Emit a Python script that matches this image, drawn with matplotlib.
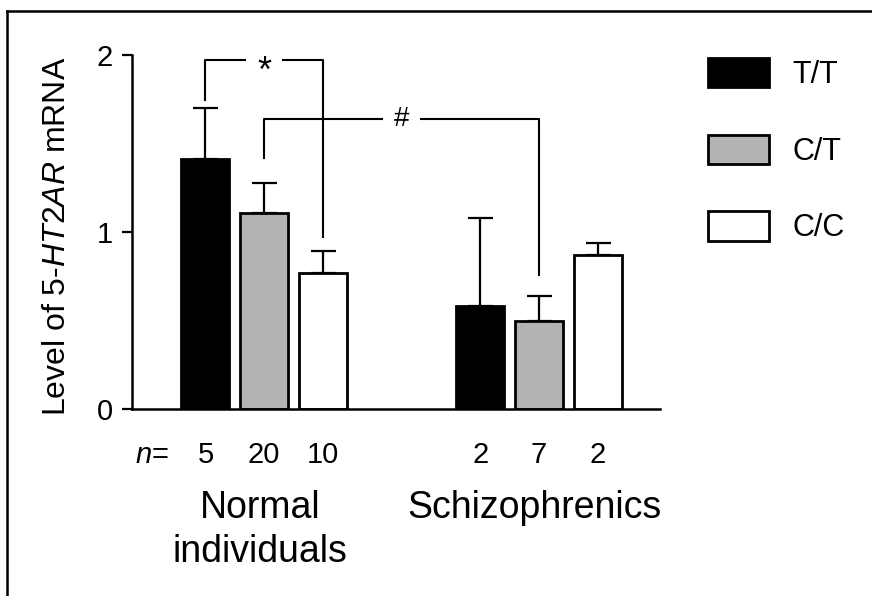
import matplotlib
matplotlib.use("Agg")
import matplotlib.pyplot as plt
from matplotlib.patches import Patch
from matplotlib.lines import Line2D
import numpy as np

plt.rcParams['font.family'] = ['Liberation Sans', 'DejaVu Sans']
plt.rcParams['mathtext.fontset'] = 'custom'
plt.rcParams['mathtext.rm'] = 'Liberation Sans'
plt.rcParams['mathtext.it'] = 'Liberation Sans:italic'

# ---- data ----
genotypes = ["T/T", "C/T", "C/C"]
groups = ["Normal\nindividuals", "Schizophrenics"]
normal_means = [1.41, 1.11, 0.77]
normal_err = [0.29, 0.165, 0.12]
schizo_means = [0.58, 0.50, 0.87]
schizo_err = [0.50, 0.14, 0.07]
normal_n = ["5", "20", "10"]
schizo_n = ["2", "7", "2"]
yticks = [0, 1, 2]

colors = ["#000000", "#b3b3b3", "#ffffff"]

fig = plt.figure(figsize=(8.72, 5.96), dpi=100)
ax = fig.add_axes([132/872, (596-409)/596, 528/872, 354/596])

group_offset = 4.68
pos_normal = np.arange(3)
pos_schizo = np.arange(3) + group_offset
width = 0.82

for i in range(3):
    for pos, means, errs in ((pos_normal, normal_means, normal_err),
                             (pos_schizo, schizo_means, schizo_err)):
        ax.errorbar(pos[i], means[i], yerr=[[0], [errs[i]]], fmt='none',
                    ecolor='black', elinewidth=1.6, capsize=9, capthick=1.6, zorder=1)
        ax.bar(pos[i], means[i], width=width, color=colors[i], edgecolor='black',
               linewidth=2.0, zorder=2)

ax.set_xlim(-1.25, 7.74)
ax.set_ylim(0, 2)
ax.set_yticks(yticks)
ax.set_yticklabels([str(t) for t in yticks])
ax.set_xticks([])
for s in ("top", "right"):
    ax.spines[s].set_visible(False)
for s in ("left", "bottom"):
    ax.spines[s].set_linewidth(1.8)
ax.tick_params(axis='y', direction='out', length=7, width=1.6, labelsize=21, pad=7)

ax.set_ylabel("Level of $\\it{5}$-$\\it{HT2AR}$ mRNA", fontsize=23)
ax.yaxis.set_label_coords(-0.142, 0.489)
ax.yaxis.label.set_verticalalignment('center')

# n labels
xt = ax.get_xaxis_transform()
ax.text(pos_normal[0] - 0.62, -0.1525, "$\\it{n}$=", transform=xt,
        ha='right', va='baseline', fontsize=21)
for pos, labs in ((pos_normal, normal_n), (pos_schizo, schizo_n)):
    for p, l in zip(pos, labs):
        ax.text(p, -0.1525, l, transform=xt, ha='center', va='baseline', fontsize=21)

# group labels
for pos, g in ((pos_normal, groups[0]), (pos_schizo, groups[1])):
    ax.text(pos.mean() - 0.075, -0.229, g, transform=xt,
            ha='center', va='top', fontsize=27, linespacing=1.28)

# significance brackets
lk = dict(color='black', lw=1.5, clip_on=False, zorder=3)
ax.plot([pos_normal[0], pos_normal[0], pos_normal[2], pos_normal[2]],
        [1.746, 1.972, 1.972, 0.973], **lk)
ax.text(pos_normal[1], 1.845, "*", ha='center', va='baseline', fontsize=26, zorder=4,
        bbox=dict(facecolor='white', edgecolor='none', boxstyle='square,pad=0.3'))
ax.plot([pos_normal[1], pos_normal[1], pos_schizo[1], pos_schizo[1]],
        [1.42, 1.637, 1.637, 0.757], **lk)
ax.text((pos_normal[1] + pos_schizo[1]) / 2, 1.637, "#", ha='center', va='center',
        fontsize=20, zorder=4,
        bbox=dict(facecolor='white', edgecolor='none', boxstyle='square,pad=0.4'))

# legend
handles = [Patch(facecolor=c, edgecolor='black', linewidth=2.0) for c in colors]
fig.legend(handles, genotypes, loc='upper left', bbox_to_anchor=(708/872, 1 - 58/596),
           frameon=False, fontsize=22, handlelength=2.0, handleheight=1.1,
           labelspacing=1.46, handletextpad=0.75, borderpad=0, borderaxespad=0)

# figure border (top and left)
fig.add_artist(Line2D([7/872, 1.0], [1 - 11/596, 1 - 11/596], color='black', lw=1.8,
                      transform=fig.transFigure))
fig.add_artist(Line2D([7/872, 7/872], [0, 1 - 11/596], color='black', lw=1.8,
                      transform=fig.transFigure))

fig.savefig("out.png", dpi=100)
